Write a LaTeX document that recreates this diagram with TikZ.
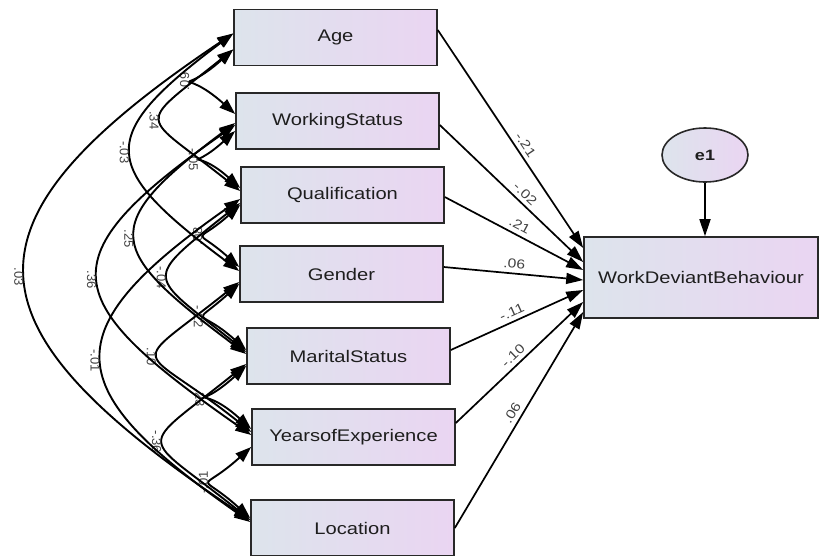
\documentclass[tikz,border=0pt]{standalone}
\usepackage{fontspec}
\setmainfont{Liberation Sans}
\newfontfamily\boxfont[FakeStretch=1.2]{Liberation Sans}
\usetikzlibrary{arrows.meta,calc,shapes.geometric}
\definecolor{boxL}{RGB}{221,228,236}
\definecolor{boxR}{RGB}{234,213,242}
\definecolor{edgeC}{RGB}{40,40,40}
\definecolor{txtC}{RGB}{30,30,30}
\definecolor{lblC}{RGB}{65,65,65}
\begin{document}
\begin{tikzpicture}[x=1pt,y=-1pt,
  var/.style={draw=edgeC, line width=1.6pt, left color=boxL, right color=boxR,
    minimum width=203pt, minimum height=56pt, inner sep=0pt,
    font=\boxfont\fontsize{16.8}{18}\selectfont, text=txtC},
  errv/.style={draw=edgeC, line width=1.6pt, ellipse, left color=boxL, right color=boxR,
    minimum width=86pt, minimum height=54pt, inner sep=0pt,
    font=\boxfont\bfseries\fontsize{15}{17}\selectfont, text=txtC},
  cov/.style={line width=1.9pt, {Triangle[length=16pt,width=11pt]}-{Triangle[length=16pt,width=11pt]}},
  reg/.style={line width=1.7pt, -{Triangle[length=17pt,width=11pt]}},
  lbl/.style={font=\fontsize{13}{14}\selectfont, text=lblC, inner sep=2pt},
  lblL/.style={lbl, pos=0.5, rotate=-90, anchor=north},
  lblU/.style={lbl, pos=0.5, rotate=90, anchor=south},
  rl/.style={font=\boxfont\fontsize{13}{14}\selectfont, text=lblC, sloped, above=3pt, inner sep=1pt}
]
\useasboundingbox (0,0) rectangle (819,555);

% variables
\node[var] (age) at (335.5,37.5) {Age};
\node[var] (ws)  at (337.5,121) {WorkingStatus};
\node[var] (qual) at (342.5,195) {Qualification};
\node[var] (gen) at (341.5,274) {Gender};
\node[var] (ms)  at (348.5,356) {MaritalStatus};
\node[var] (yoe) at (353.5,437) {YearsofExperience};
\node[var] (loc) at (352.5,528) {Location};
\node[var, minimum width=234pt, minimum height=81pt] (wdb) at (701,277.5) {WorkDeviantBehaviour};
\node[errv] (e1) at (705,155) {e1};

% error arrow
\draw[reg] (e1.south) -- (e1.south |- wdb.north);

% regression paths
\draw[reg] ([yshift=7.5pt]age.east) -- ([yshift=29.5pt]wdb.west) node[rl, pos=0.55] {-.21};
\draw[reg] ([yshift=-4pt]ws.east) -- ([yshift=15.5pt]wdb.west) node[rl, pos=0.55] {-.02};
\draw[reg] ([yshift=-2pt]qual.east) -- ([yshift=7.5pt]wdb.west) node[rl, pos=0.51] {.21};
\draw[reg] ([yshift=7pt]gen.east) -- ([yshift=-2.5pt]wdb.west) node[rl, pos=0.5] {.06};
\draw[reg] ([yshift=6pt]ms.east) -- ([yshift=-12.5pt]wdb.west) node[rl, pos=0.49] {-.11};
\draw[reg] ([yshift=14pt]yoe.east) -- ([yshift=-24.5pt]wdb.west) node[rl, pos=0.5] {-.10};
\draw[reg] (loc.east) -- ([yshift=-34.5pt]wdb.west) node[rl, pos=0.51] {.06};

% covariances: adjacent
\draw[cov] ([yshift=-12pt]age.west) .. controls +(-56,50) and +(-56,-50) .. ([yshift=7pt]ws.west) node[lblU] {.09};
\draw[cov] ([yshift=-10pt]ws.west) .. controls +(-49,44) and +(-49,-44) .. ([yshift=7pt]qual.west) node[lblL] {-.05};
\draw[cov] ([yshift=-10pt]qual.west) .. controls +(-46,41) and +(-46,-41) .. ([yshift=7pt]gen.west) node[lblU] {.08};
\draw[cov] ([yshift=-10pt]gen.west) .. controls +(-49,44) and +(-49,-44) .. ([yshift=6pt]ms.west) node[lblL] {-.22};
\draw[cov] ([yshift=-10pt]ms.west) .. controls +(-55,50) and +(-55,-50) .. ([yshift=8pt]yoe.west) node[lblL] {.23};
\draw[cov] ([yshift=-10pt]yoe.west) .. controls +(-53,48) and +(-53,-48) .. ([yshift=10pt]loc.west) node[lblU] {-.01};
% gap 2
\draw[cov] ([yshift=-12pt]age.west) .. controls +(-100,80) and +(-100,-80) .. ([yshift=4pt]qual.west) node[lblL] {.34};
\draw[cov] ([yshift=-8pt]qual.west) .. controls +(-99,79) and +(-99,-79) .. ([yshift=4pt]ms.west) node[lblL] {-.04};
\draw[cov] ([yshift=-8pt]gen.west) .. controls +(-115,92) and +(-115,-92) .. ([yshift=5pt]yoe.west) node[lblL] {.10};
\draw[cov] ([yshift=-8pt]ms.west) .. controls +(-112,90) and +(-112,-90) .. ([yshift=8pt]loc.west) node[lblL] {-.36};
% gap 3
\draw[cov] ([yshift=4pt]age.west) .. controls +(-139,104) and +(-139,-104) .. ([yshift=3pt]gen.west) node[lblL] {-.03};
\draw[cov] ([yshift=-2pt]ws.west) .. controls +(-139,104) and +(-139,-104) .. ([yshift=2pt]ms.west) node[lblL] {.25};
% gap 4
\draw[cov] ([yshift=-4pt]ws.west) .. controls +(-192,134) and +(-192,-134) .. ([yshift=2pt]yoe.west) node[lblL] {.36};
\draw[cov] ([yshift=-4pt]qual.west) .. controls +(-190,133) and +(-190,-133) .. ([yshift=6pt]loc.west) node[lblL] {-.01};
% gap 6
\draw[cov] ([yshift=4pt]age.west) .. controls +(-287,192) and +(-287,-192) .. ([yshift=8pt]loc.west) node[lblL] {.03};
\end{tikzpicture}
\end{document}
